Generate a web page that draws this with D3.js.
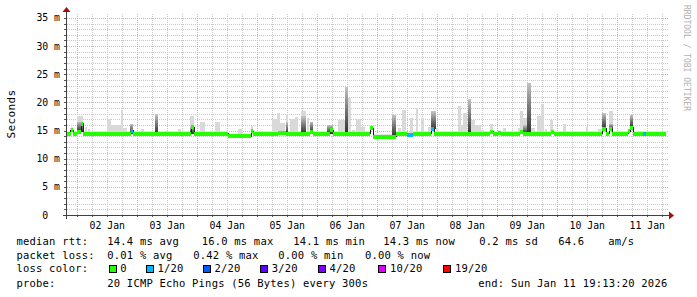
<!DOCTYPE html>
<html>
<head>
<meta charset="utf-8">
<style>
  body { margin: 0; background: #fff; }
  svg { display: block; }
  text { font-family: 'DejaVu Sans Mono', monospace; white-space: pre; }
</style>
</head>
<body>
<svg width="697" height="297"></svg>

<script src="https://d3js.org/d3.v7.min.js"></script>
<script>
    // ---- data (hours are counted from 02 Jan 00:00) ----
    const dayLabels = ["02 Jan", "03 Jan", "04 Jan", "05 Jan", "06 Jan", "07 Jan", "08 Jan", "09 Jan", "10 Jan", "11 Jan"];
    const yTicks = [0, 5, 10, 15, 20, 25, 30, 35];

    // median rtt, step segments: start hour, median ms, lost pings (of 20)
    const segStart  = [-4, -2.6, -1.6, 0, 1.6, 2.4, 21.6, 22.4, 45.6, 46.8, 60.4, 69.6, 70.4, 80.4, 83.6, 93.2, 94.4, 101.2, 102.4, 117.2, 118.4, 127.6, 131.9, 134.3, 141.6, 142.8, 165.2, 166.4, 168.4, 169.6, 177.2, 178.4, 189.6, 190.6, 210, 211.6, 212.8, 214, 220.4, 221.2, 222.4, 226.3, 227.6];
    const segMedian = [14.4, 15.1, 14.4, 14.8, 16.2, 14.4, 15.0, 14.4, 15.6, 14.4, 13.95, 14.9, 14.4, 14.6, 14.4, 14.7, 14.4, 15.1, 14.4, 15.4, 13.9, 14.4, 14.3, 14.4, 15.2, 14.4, 14.8, 14.4, 14.6, 14.4, 14.7, 14.4, 14.8, 14.4, 15.3, 14.4, 15.2, 14.4, 14.9, 15.5, 14.4, 14.4, 14.4];
    const segLoss   = [0, 0, 0, 0, 0, 0, 1, 0, 0, 0, 0, 0, 0, 0, 0, 0, 0, 0, 0, 0, 0, 0, 1, 0, 1, 0, 0, 0, 0, 0, 0, 0, 0, 0, 0, 0, 0, 0, 0, 0, 0, 1, 0];
    const endHour = 235.6;

    // smoke: start hour, end hour, max ping ms (light), dense part ms (dark, 0 = none)
    const smoke = [
        [-2.8, -1.6, 15.5, 0], [0, 2.4, 17.5, 16.6], [3.2, 4.0, 15.6, 0], [4.4, 5.2, 15.3, 0],
        [12, 13.6, 17.1, 0], [13.6, 17.6, 16.0, 0], [17.6, 18.4, 18.7, 0], [18.4, 20, 15.5, 0],
        [21.2, 22.4, 0, 16.2], [25.6, 26.8, 15.3, 0], [31.2, 32.4, 0, 17.9], [35.2, 36.8, 15.0, 0],
        [40.4, 41.6, 15.2, 0], [45.2, 46.8, 17.5, 15.7], [49.2, 51.2, 16.6, 0], [55.2, 57.2, 16.5, 0],
        [64.4, 66, 15.2, 0], [69.6, 70.4, 15.8, 0], [78, 80, 17.0, 0], [80, 81.2, 18.1, 0],
        [81.2, 83.2, 16.4, 0], [83.6, 84.4, 17.8, 16.5], [85.2, 87.2, 17.1, 0], [87.2, 88.4, 17.4, 0],
        [89.6, 91.6, 18.4, 17.5], [92, 92.8, 17.2, 0], [93.2, 94.4, 16.6, 16.6], [100, 102.4, 16.0, 16.0],
        [104.4, 107.2, 16.9, 0], [107.2, 108.4, 22.8, 22.8], [108.4, 109.6, 20.7, 0], [110, 111.2, 15.1, 0],
        [111.6, 113.6, 17.0, 0], [113.6, 115.2, 15.7, 0], [117.2, 118.4, 15.6, 15.6], [126, 127.6, 17.8, 17.8],
        [128.4, 129.6, 15.5, 0], [130, 131.6, 18.7, 0], [133.2, 134.4, 17.2, 0], [135.6, 136.4, 19.0, 0],
        [137.6, 138.8, 17.2, 0], [140.4, 141.6, 15.7, 0], [141.6, 143.6, 18.4, 18.4], [143.6, 144.4, 15.4, 0],
        [152.4, 153.6, 19.4, 0], [153.6, 154.4, 16.0, 0], [154.4, 156, 18.1, 0], [156.4, 157.6, 20.6, 20.6],
        [157.6, 159.2, 16.9, 0], [159.2, 161.6, 16.0, 0], [161.6, 162.8, 15.1, 0], [165.2, 166.4, 16.2, 0],
        [170.4, 171.6, 15.5, 0], [176.4, 177.2, 15.5, 0], [177.2, 178.4, 18.5, 0], [178.4, 180, 17.2, 16.0],
        [180, 181.6, 23.5, 23.5], [181.6, 183.2, 15.5, 0], [184, 185.6, 17.6, 0], [185.6, 186.8, 19.8, 0],
        [187.2, 188, 15.3, 0], [189.2, 190.4, 16.8, 0], [194.4, 195.6, 16.2, 0], [203.6, 204.4, 15.7, 0],
        [208.4, 210, 15.2, 0], [210, 211.6, 18.1, 18.1], [212.8, 214.4, 18.4, 16.2], [221.2, 222.4, 17.8, 17.8]
    ];
    const smokeSpread = 0.45;   // thin band of smoke just above the median, ms

    const lossLabels = ["0", "1/20", "2/20", "3/20", "4/20", "10/20", "19/20"];
    const lossColors = ["#26ff00", "#00b8ff", "#0059ff", "#5e00ff", "#7e00ff", "#dd00ff", "#ff0000"];
    const rttStats  = ["14.4 ms avg", "16.0 ms max", "14.1 ms min", "14.3 ms now", "0.2 ms sd", "64.6", "am/s"];
    const lossStats = ["0.01 % avg", "0.42 % max", "0.00 % min", "0.00 % now"];
    const probeText = "20 ICMP Echo Pings (56 Bytes) every 300s";
    const endText = "end: Sun Jan 11 19:13:20 2026";

    // ---- layout ----
    let svg = d3.select("svg")
    let plotLeft = 67, plotRight = 667, plotTop = 15, plotBottom = 215;
    let t0 = Date.UTC(2026, 0, 2);
    let hd = h => new Date(t0 + h * 3600e3);

    let x = d3.scaleUtc().domain([hd(-4), hd(236)]).range([plotLeft, plotRight]);
    let y = d3.scaleLinear().domain([0, 35.53]).range([plotBottom, plotTop]);
    let hx = h => x(hd(h));

    // grid
    let grid = svg.append("g").attr("shape-rendering", "crispEdges");
    d3.range(1, 36).filter(v => v % 5 != 0).forEach(v => {
        grid.append("line").attr("x1", plotLeft).attr("x2", 669)
            .attr("y1", Math.round(y(v)) + 0.5).attr("y2", Math.round(y(v)) + 0.5)
            .attr("stroke", "#c8c8c8").attr("stroke-dasharray", "1,1")
    })
    d3.utcHour.every(6).range(hd(-4), hd(236)).forEach(d => {
        let major = d.getUTCHours() == 0;
        grid.append("line").attr("y1", plotBottom).attr("y2", 13)
            .attr("x1", Math.round(x(d)) + 0.5).attr("x2", Math.round(x(d)) + 0.5)
            .attr("stroke", major ? "#e8a8a8" : "#c8c8c8").attr("stroke-dasharray", "1,1")
        svg.append("line").attr("y1", plotBottom).attr("y2", plotBottom + 2)
            .attr("x1", Math.round(x(d)) + 0.5).attr("x2", Math.round(x(d)) + 0.5)
            .attr("stroke", "#555")
    })
    yTicks.filter(v => v > 0).forEach(v => {
        grid.append("line").attr("x1", plotLeft).attr("x2", 669)
            .attr("y1", Math.round(y(v)) + 0.5).attr("y2", Math.round(y(v)) + 0.5)
            .attr("stroke", "#e8a8a8").attr("stroke-dasharray", "1,1")
    })

    // median lookup
    function medianAt(h) {
        let i = d3.bisectRight(segStart, h) - 1;
        return segMedian[Math.max(0, i)];
    }

    // thin smoke just above the median
    let plot = svg.append("g").attr("shape-rendering", "crispEdges");
    segStart.forEach((s, i) => {
        let e = i < segStart.length - 1 ? segStart[i + 1] : endHour;
        plot.append("rect")
            .attr("x", hx(s)).attr("width", hx(e) - hx(s))
            .attr("y", y(segMedian[i] + smokeSpread))
            .attr("height", y(segMedian[i]) - y(segMedian[i] + smokeSpread))
            .attr("fill", "#e4e4e4")
    })

    let defs = svg.append("defs");
    let grad = defs.append("linearGradient").attr("id", "dense")
        .attr("x1", 0).attr("y1", 1).attr("x2", 0).attr("y2", 0);
    grad.append("stop").attr("offset", "0%").attr("stop-color", "#303030");
    grad.append("stop").attr("offset", "55%").attr("stop-color", "#7c7c7c");
    grad.append("stop").attr("offset", "100%").attr("stop-color", "#c4c4c4");

    plot.selectAll(".light")
        .data(smoke.filter(d => d[2] > 0))
        .join("rect")
        .attr("x", d => hx(d[0]))
        .attr("width", d => hx(d[1]) - hx(d[0]))
        .attr("y", d => y(d[2]))
        .attr("height", d => y(medianAt(d[0])) - y(d[2]))
        .attr("fill", "#d9d9d9")

    plot.selectAll(".dense")
        .data(smoke.filter(d => d[3] > 0))
        .join("rect")
        .attr("x", d => hx(d[0]))
        .attr("width", d => Math.max(1.5, hx(d[1]) - hx(d[0])))
        .attr("y", d => y(d[3]))
        .attr("height", d => y(medianAt(d[0])) - y(d[3]))
        .attr("fill", "url(#dense)")

    // median line (thin black) then loss coloured band
    let pts = segStart.map((s, i) => [s, segMedian[i]]);
    pts.push([endHour, segMedian[segMedian.length - 1]]);
    svg.append("path")
        .attr("d", d3.line().x(d => hx(d[0])).y(d => y(d[1])).curve(d3.curveStepAfter)(pts))
        .attr("fill", "none").attr("stroke", "#202020").attr("stroke-width", 1)
        .attr("shape-rendering", "crispEdges")

    let band = svg.append("g").attr("shape-rendering", "crispEdges");
    segStart.forEach((s, i) => {
        let e = i < segStart.length - 1 ? segStart[i + 1] : endHour;
        band.append("rect")
            .attr("x", hx(s)).attr("width", hx(e) - hx(s))
            .attr("y", y(segMedian[i]) - 2).attr("height", 4)
            .attr("fill", lossColors[segLoss[i]])
    })

    // axes
    svg.append("line").attr("x1", 63).attr("x2", 670).attr("y1", plotBottom + 0.5).attr("y2", plotBottom + 0.5)
        .attr("stroke", "#404040")
    svg.append("line").attr("x1", plotLeft - 0.5).attr("x2", plotLeft - 0.5).attr("y1", 219).attr("y2", 11)
        .attr("stroke", "#404040")
    svg.append("path").attr("d", "M669,211.5 L674,215.5 L669,219.5 Z").attr("fill", "#a01010")
    svg.append("path").attr("d", "M62.5,12 L66.5,7 L70.5,12 Z").attr("fill", "#a01010")

    d3.range(1, 36).forEach(v => {
        svg.append("line").attr("x1", plotLeft - 3).attr("x2", plotLeft - 1)
            .attr("y1", Math.round(y(v)) + 0.5).attr("y2", Math.round(y(v)) + 0.5)
            .attr("stroke", "#555")
    })

    // axis labels
    yTicks.forEach(v => {
        svg.append("text")
            .attr("x", 60).attr("y", y(v) + 3.5)
            .attr("text-anchor", "end")
            .style("font-size", "9.8px")
            .text(v == 0 ? "0  " : v + " m")
    })
    dayLabels.forEach((lab, i) => {
        svg.append("text")
            .attr("x", hx(i * 24 + 12) + 0.3).attr("y", 228.8)
            .attr("text-anchor", "middle")
            .style("font-size", "9.8px")
            .text(lab)
    })

    svg.append("text")
        .attr("transform", "translate(14.5,114) rotate(-90)")
        .attr("text-anchor", "middle")
        .style("font-size", "11px").style("letter-spacing", "0.4px")
        .text("Seconds")

    svg.append("text")
        .attr("transform", "translate(684,5) rotate(90)")
        .style("font-size", "8px").attr("fill", "#b0b0b0")
        .text("RRDTOOL / TOBI OETIKER")

    // legend
    let leg = svg.append("g").style("font-size", "10.5px").style("letter-spacing", "0.2px");
    let rows = [244.5, 258.5, 272.2, 286.5];
    leg.append("text").attr("x", 16.5).attr("y", rows[0]).text("median rtt:");
    [107.3, 201.7, 293.3, 383.3, 479.3, 558.3, 608.3].forEach((px, i) => {
        leg.append("text").attr("x", px).attr("y", rows[0]).text(rttStats[i]);
    })
    leg.append("text").attr("x", 16.5).attr("y", rows[1]).text("packet loss:");
    [107.3, 193.3, 278.3, 365].forEach((px, i) => {
        leg.append("text").attr("x", px).attr("y", rows[1]).text(lossStats[i]);
    })
    leg.append("text").attr("x", 16.5).attr("y", rows[2]).text("loss color:");
    [108.5, 145.7, 202.7, 260, 317.7, 378.3, 443.3].forEach((px, i) => {
        leg.append("rect").attr("x", Math.round(px) + 0.5).attr("y", 265.5)
            .attr("width", 7).attr("height", 7)
            .attr("fill", lossColors[i]).attr("stroke", "#000").attr("stroke-width", 1)
        leg.append("text").attr("x", px + 11.7).attr("y", rows[2]).text(lossLabels[i]);
    })
    leg.append("text").attr("x", 16.5).attr("y", rows[3]).text("probe:");
    leg.append("text").attr("x", 107.3).attr("y", rows[3]).text(probeText);
    leg.append("text").attr("x", 478.3).attr("y", rows[3]).text(endText);
</script>
</body>
</html>
